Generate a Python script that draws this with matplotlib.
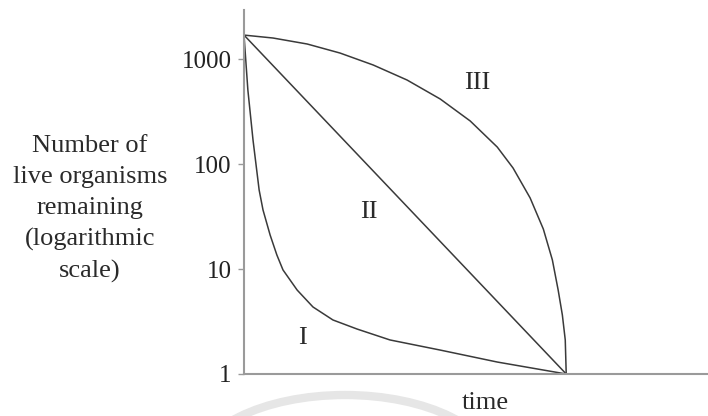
import matplotlib.pyplot as plt
from matplotlib.patches import Arc

# tiempo (0 = nacimiento, 10 = fin) y numero de organismos vivos
tiempo_I = [0, 0.12, 0.28, 0.47, 0.59, 0.81, 1.02, 1.21, 1.65, 2.14, 2.76, 3.51,
            4.53, 6.09, 7.86, 10]
vivos_I = [1690, 507, 169, 56.5, 36.5, 21.1, 13.6, 9.8, 6.3, 4.35, 3.27, 2.68,
           2.11, 1.69, 1.30, 1]

tiempo_II = [0, 10]
vivos_II = [1690, 1]

tiempo_III = [0, 0.90, 1.96, 2.98, 4.01, 5.06, 6.09, 7.02, 7.86, 8.35, 8.88, 9.29,
              9.57, 9.75, 9.88, 9.97, 10]
vivos_III = [1690, 1585, 1390, 1140, 877, 631, 416, 257, 145, 91.6, 47.5, 24,
             12.2, 6.3, 3.65, 2.11, 1]

ticks_y = [1, 10, 100, 1000]
etiquetas_y = ['1', '10', '100', '1000']

plt.rcParams['font.family'] = ['Liberation Serif', 'DejaVu Serif']

fig = plt.figure(figsize=(7.08, 4.16), dpi=100)
ax = fig.add_axes([244 / 708, 42 / 416, 464 / 708, 364 / 416])

# marca de agua gris de fondo
arco = Arc((345 / 708, -54 / 416), 300 / 708, 150 / 416, theta1=0, theta2=180,
           transform=fig.transFigure, color='#e6e6e6', lw=6, zorder=0)
fig.add_artist(arco)

color_curva = '#3a3a3a'
for t, n in [(tiempo_I, vivos_I), (tiempo_II, vivos_II), (tiempo_III, vivos_III)]:
    ax.plot(t, n, color=color_curva, lw=1.1, solid_joinstyle='round')

ax.set_yscale('log')
ax.set_ylim(1, 2930)
ax.set_xlim(0, 14.4)
ax.set_yticks(ticks_y)
ax.set_yticklabels(etiquetas_y)
ax.minorticks_off()
ax.set_xticks([])

for lado in ['top', 'right']:
    ax.spines[lado].set_visible(False)
for lado in ['left', 'bottom']:
    ax.spines[lado].set_color('#9a9a9a')
    ax.spines[lado].set_linewidth(1.5)
ax.tick_params(axis='y', length=4, width=1, color='#9a9a9a', pad=5,
               labelsize=18, labelcolor='#222222')

ax.text(1.83, 2.2, 'I', fontsize=19, color='#2a2a2a', ha='center', va='center')
ax.text(3.86, 35, 'II', fontsize=19, color='#2a2a2a', ha='center', va='center')
ax.text(7.24, 590, 'III', fontsize=19, color='#2a2a2a', ha='center', va='center')

fig.text(90 / 708, 1 - 209 / 416,
         'Number of\nlive organisms\nremaining\n(logarithmic\nscale)',
         fontsize=19, color='#2a2a2a', ha='center', va='center', linespacing=1.52)
fig.text(485 / 708, 1 - 403 / 416, 'time', fontsize=19, color='#2a2a2a',
         ha='center', va='center')

fig.savefig('out.png', dpi=100)
